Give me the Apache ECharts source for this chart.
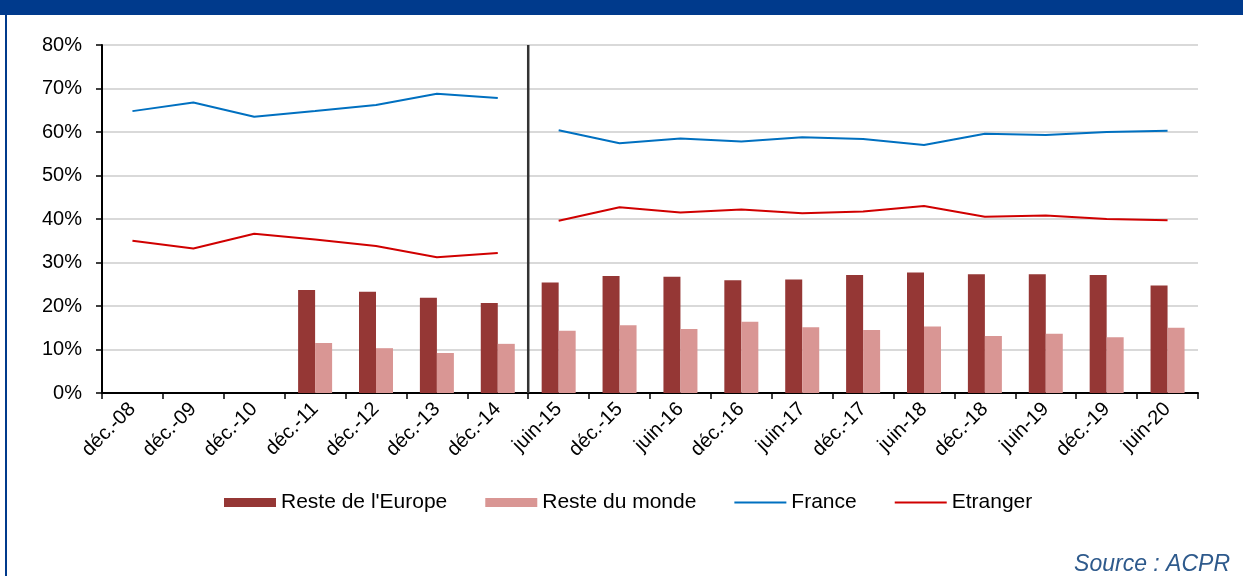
<!DOCTYPE html>
<html>
<head>
<meta charset="utf-8">
<script src="https://cdn.jsdelivr.net/npm/echarts@6/dist/echarts.min.js"></script>
<style>
  html, body { margin: 0; padding: 0; background: #fff; }
  #main { width: 1243px; height: 576px; }
</style>
</head>
<body>
<div id="main"></div>
<script>
// données (en %)
var categories = ['déc.-08', 'déc.-09', 'déc.-10', 'déc.-11', 'déc.-12', 'déc.-13', 'déc.-14',
    'juin-15', 'déc.-15', 'juin-16', 'déc.-16', 'juin-17', 'déc.-17', 'juin-18', 'déc.-18',
    'juin-19', 'déc.-19', 'juin-20'];
var resteEurope = [null, null, null, 23.7, 23.3, 21.9, 20.7, 25.4, 26.9, 26.7, 25.9, 26.1, 27.1, 27.7, 27.3, 27.3, 27.1, 24.7];
var resteMonde = [null, null, null, 11.5, 10.3, 9.2, 11.3, 14.3, 15.6, 14.7, 16.4, 15.1, 14.5, 15.3, 13.1, 13.6, 12.8, 15.0];
var france = [64.8, 66.8, 63.5, 64.8, 66.2, 68.8, 67.8, 60.4, 57.4, 58.5, 57.8, 58.8, 58.4, 57.0, 59.6, 59.3, 60.0, 60.3];
var etranger = [35.0, 33.2, 36.6, 35.3, 33.8, 31.2, 32.2, 39.6, 42.7, 41.5, 42.2, 41.3, 41.7, 43.0, 40.5, 40.8, 40.0, 39.7];
var yTicks = [0, 10, 20, 30, 40, 50, 60, 70, 80];
var rupture = 7; // changement de série entre déc.-14 et juin-15

function avant(arr) { return arr.map(function (v, i) { return i < rupture ? v : null; }); }
function apres(arr) { return arr.map(function (v, i) { return i >= rupture ? v : null; }); }

var lineIcon = 'path://M0,0 L52,0 L52,2 L0,2 Z';
var font = "'Liberation Sans', Arial, sans-serif";

var chart = echarts.init(document.getElementById('main'));

var option = {
    animation: false,
    textStyle: { fontFamily: font, color: '#000' },
    grid: { left: 102, right: 45, top: 45, bottom: 183, containLabel: false },
    legend: {
        top: 487,
        left: 219,
        itemWidth: 52,
        itemHeight: 9,
        itemGap: 38,
        textStyle: { fontSize: 21, color: '#000', fontFamily: font },
        data: [
            { name: "Reste de l'Europe", icon: 'rect' },
            { name: 'Reste du monde', icon: 'rect' },
            { name: 'France', icon: lineIcon },
            { name: 'Etranger', icon: lineIcon }
        ]
    },
    xAxis: [
        {
            type: 'category',
            data: categories,
            boundaryGap: true,
            axisLine: { lineStyle: { color: '#000', width: 2 } },
            axisTick: { show: true, length: 6, lineStyle: { color: '#000', width: 1.5 } },
            axisLabel: { rotate: 45, fontSize: 20, color: '#000', margin: 13, interval: 0 }
        },
        {
            type: 'value',
            min: 0,
            max: categories.length,
            show: false
        }
    ],
    yAxis: {
        type: 'value',
        min: yTicks[0],
        max: yTicks[yTicks.length - 1],
        interval: 10,
        axisLine: { show: true, lineStyle: { color: '#000', width: 2 } },
        axisTick: { show: true, length: 6, lineStyle: { color: '#000', width: 1.5 } },
        axisLabel: { formatter: '{value}%', fontSize: 20, color: '#000', margin: 20 },
        splitLine: { lineStyle: { color: '#d9d9d9', width: 2 } }
    },
    series: [
        {
            name: "Reste de l'Europe",
            type: 'bar',
            data: resteEurope,
            barWidth: 17,
            barGap: '0%',
            itemStyle: { color: '#953735' }
        },
        {
            name: 'Reste du monde',
            type: 'bar',
            data: resteMonde,
            barWidth: 17,
            itemStyle: { color: '#d99694' }
        },
        {
            name: 'France',
            type: 'line',
            data: avant(france),
            symbol: 'none',
            lineStyle: { color: '#0070c0', width: 2 },
            itemStyle: { color: '#0070c0' }
        },
        {
            name: 'France',
            type: 'line',
            data: apres(france),
            symbol: 'none',
            lineStyle: { color: '#0070c0', width: 2 },
            itemStyle: { color: '#0070c0' }
        },
        {
            name: 'Etranger',
            type: 'line',
            data: avant(etranger),
            symbol: 'none',
            lineStyle: { color: '#d00000', width: 2 },
            itemStyle: { color: '#d00000' }
        },
        {
            name: 'Etranger',
            type: 'line',
            data: apres(etranger),
            symbol: 'none',
            lineStyle: { color: '#d00000', width: 2 },
            itemStyle: { color: '#d00000' }
        },
        {
            // trait vertical de rupture
            name: 'rupture',
            type: 'line',
            xAxisIndex: 1,
            data: [[rupture, yTicks[0]], [rupture, yTicks[yTicks.length - 1]]],
            symbol: 'none',
            silent: true,
            z: 5,
            lineStyle: { color: '#333', width: 2.5 }
        }
    ],
    graphic: [
        { type: 'rect', left: 0, top: 0, shape: { width: 1243, height: 15 }, style: { fill: '#003a8c' } },
        { type: 'rect', left: 5, top: 0, shape: { width: 2, height: 576 }, style: { fill: '#003a8c' } },
        {
            type: 'text',
            right: 13,
            top: 553,
            style: {
                text: 'Source : ACPR',
                font: 'italic 23px ' + font,
                fill: '#2e5a8c'
            }
        }
    ]
};

chart.setOption(option);
</script>
</body>
</html>
